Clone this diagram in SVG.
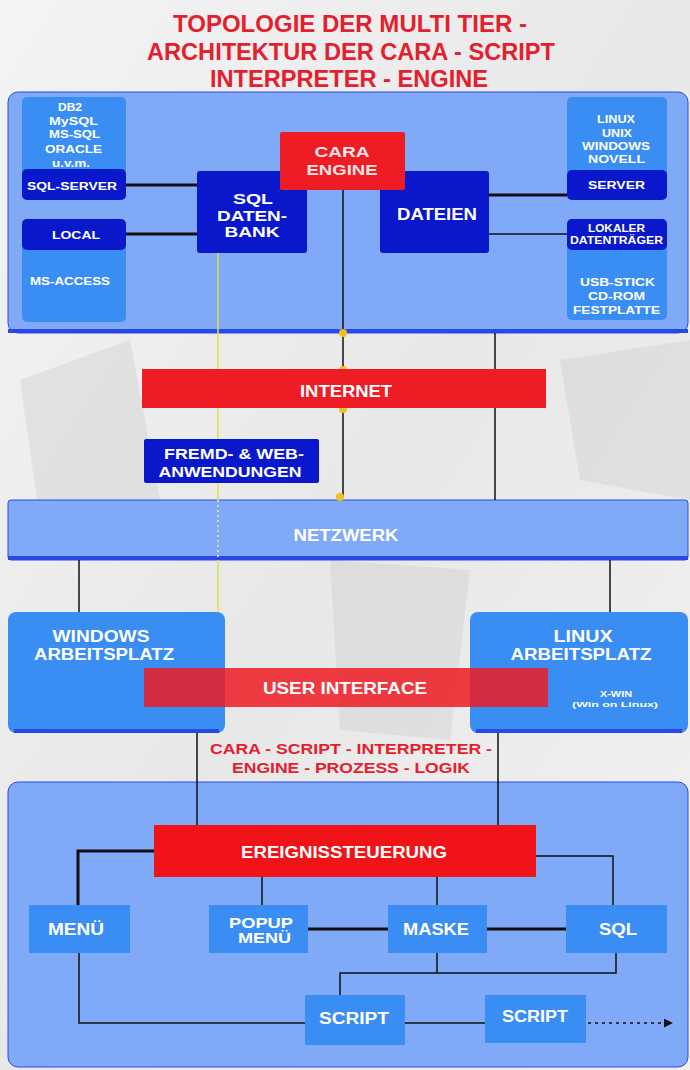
<svg xmlns="http://www.w3.org/2000/svg" width="690" height="1070" viewBox="0 0 690 1070">
<defs>
<style>
text{font-family:"Liberation Sans",Arial,sans-serif;font-weight:bold;fill:#ffffff;text-anchor:middle}
.title{fill:#e3202e;font-size:23px}
.sub{fill:#e3202e;font-size:15.5px}
.panel{fill:#80a9f7;stroke:#2a48e6;stroke-width:1}
.lb{fill:#3a8ef3}
.db{fill:#0a18cc}
.red{fill:#ee1c24}
.sm{font-size:10px}
.md{font-size:14.5px}
.lg{font-size:16px}
.ln{stroke:#101010;stroke-width:1.5;fill:none}
.th{stroke:#101010;stroke-width:3;fill:none}
.dot{fill:#eec020}
</style>
<marker id="arr" viewBox="0 0 10 10" refX="9" refY="5" markerWidth="6" markerHeight="6" orient="auto"><path d="M0,0L10,5L0,10z" fill="#101010"/></marker>
<linearGradient id="bg" x1="0" y1="0" x2="1" y2="1"><stop offset="0" stop-color="#f4f4f4"/><stop offset="0.5" stop-color="#e8e8e8"/><stop offset="1" stop-color="#f2f2f2"/></linearGradient>
</defs>
<rect width="690" height="1070" fill="url(#bg)"/>
<g opacity="0.3" fill="#c4c4c4">
<path d="M20,380 L130,340 L160,500 L40,520 Z"/>
<path d="M560,360 L690,340 L690,500 L580,480 Z"/>
<path d="M330,560 L470,570 L450,740 L340,730 Z"/>
</g>
<text class="title" x="350" y="32" textLength="354" lengthAdjust="spacingAndGlyphs">TOPOLOGIE DER MULTI TIER -</text>
<text class="title" x="351" y="60" textLength="408" lengthAdjust="spacingAndGlyphs">ARCHITEKTUR DER CARA - SCRIPT</text>
<text class="title" x="349" y="87" textLength="278" lengthAdjust="spacingAndGlyphs">INTERPRETER - ENGINE</text>

<g id="panel-top"><rect class="panel" x="8" y="92" width="680" height="241" rx="10"/><rect x="8" y="329" width="680" height="4" fill="#2a48e6"/></g>
<g id="panel-net"><rect class="panel" x="8" y="500" width="680" height="60" rx="3"/><rect x="8" y="556" width="680" height="4" fill="#2a48e6"/></g>
<g id="panel-bottom"><rect class="panel" x="8" y="782" width="680" height="285" rx="10"/></g>

<g id="connectors">
<line class="th" x1="126" y1="185" x2="197" y2="185"/>
<line class="th" x1="126" y1="234" x2="197" y2="234"/>
<line class="th" x1="489" y1="195" x2="567" y2="195"/>
<line class="ln" x1="489" y1="234" x2="567" y2="234"/>
<line class="ln" x1="343" y1="189" x2="343" y2="497"/>
<line class="ln" x1="495" y1="333" x2="495" y2="500"/>
<line stroke="#e0e040" stroke-width="1.5" x1="218" y1="253" x2="218" y2="500"/>
<line stroke="#f0f0a0" stroke-width="1.5" stroke-dasharray="2,3" x1="218" y1="500" x2="218" y2="560"/>
<line stroke="#e0e040" stroke-width="1.5" x1="218" y1="560" x2="218" y2="612"/>
<line class="ln" x1="79" y1="560" x2="79" y2="612"/>
<line class="ln" x1="610" y1="560" x2="610" y2="612"/>
<line class="ln" x1="197" y1="707" x2="197" y2="825"/>
<line class="ln" x1="498" y1="707" x2="498" y2="825"/>
<polyline class="th" points="154,851 78,851 78,905"/>
<polyline class="ln" points="536,856 613,856 613,905"/>
<line class="ln" x1="262" y1="877" x2="262" y2="905"/>
<line class="ln" x1="437" y1="877" x2="437" y2="905"/>
<line class="th" x1="308" y1="929" x2="388" y2="929"/>
<line class="th" x1="487" y1="929" x2="566" y2="929"/>
<polyline class="ln" points="437,953 437,973"/>
<polyline class="ln" points="340,995 340,973 616,973 616,953"/>
<polyline class="ln" points="79,953 79,1023 305,1023"/>
<line class="ln" x1="405" y1="1023" x2="485" y2="1023"/>
<line class="ln" x1="588" y1="1023" x2="672" y2="1023" stroke-dasharray="3,4" marker-end="url(#arr)"/>
<circle class="dot" cx="343" cy="333" r="4"/>
<circle class="dot" cx="343" cy="370" r="4"/>
<circle class="dot" cx="343" cy="409" r="4"/>
<circle class="dot" cx="340" cy="497" r="4"/>
</g>

<g id="sqlserver"><rect class="lb" x="22" y="97" width="104" height="103" rx="5"/><rect class="db" x="22" y="169" width="104" height="31" rx="5"/>
<text class="sm" x="70" y="111" textLength="24" lengthAdjust="spacingAndGlyphs">DB2</text>
<text class="sm" x="73.5" y="125" textLength="49" lengthAdjust="spacingAndGlyphs">MySQL</text>
<text class="sm" x="74.5" y="138" textLength="51" lengthAdjust="spacingAndGlyphs">MS-SQL</text>
<text class="sm" x="73.5" y="153" textLength="57" lengthAdjust="spacingAndGlyphs">ORACLE</text>
<text class="sm" x="71" y="167" textLength="38" lengthAdjust="spacingAndGlyphs">u.v.m.</text>
<text class="sm" x="72" y="190" textLength="90" lengthAdjust="spacingAndGlyphs">SQL-SERVER</text></g>
<g id="local"><rect class="lb" x="22" y="219" width="104" height="103" rx="5"/><rect class="db" x="22" y="219" width="104" height="31" rx="5"/>
<text class="sm" x="76" y="239" textLength="48" lengthAdjust="spacingAndGlyphs">LOCAL</text>
<text class="sm" x="70" y="285" textLength="80" lengthAdjust="spacingAndGlyphs">MS-ACCESS</text></g>
<g id="sqldb"><rect class="db" x="197" y="171" width="110" height="82" rx="3"/>
<text class="md" x="253" y="204" textLength="40" lengthAdjust="spacingAndGlyphs">SQL</text>
<text class="md" x="252" y="221" textLength="70" lengthAdjust="spacingAndGlyphs">DATEN-</text>
<text class="md" x="252" y="237" textLength="55" lengthAdjust="spacingAndGlyphs">BANK</text></g>
<g id="dateien"><rect class="db" x="380" y="171" width="109" height="82" rx="3"/>
<text class="lg" x="437" y="220" textLength="80" lengthAdjust="spacingAndGlyphs">DATEIEN</text></g>
<g id="cara"><rect class="red" x="280" y="132" width="125" height="58" rx="2"/>
<text class="md" x="342" y="157" style="fill:#fbe4e4" textLength="55" lengthAdjust="spacingAndGlyphs">CARA</text>
<text class="md" x="342" y="175" style="fill:#fbe4e4" textLength="71" lengthAdjust="spacingAndGlyphs">ENGINE</text></g>
<g id="server"><rect class="lb" x="567" y="97" width="100" height="103" rx="5"/><rect class="db" x="567" y="170" width="100" height="30" rx="5"/>
<text class="sm" x="616" y="123" textLength="38" lengthAdjust="spacingAndGlyphs">LINUX</text>
<text class="sm" x="617" y="137" textLength="30" lengthAdjust="spacingAndGlyphs">UNIX</text>
<text class="sm" x="616" y="150" textLength="68" lengthAdjust="spacingAndGlyphs">WINDOWS</text>
<text class="sm" x="616.5" y="163" textLength="57" lengthAdjust="spacingAndGlyphs">NOVELL</text>
<text class="sm" x="616.5" y="189" textLength="57" lengthAdjust="spacingAndGlyphs">SERVER</text></g>
<g id="lokal"><rect class="lb" x="567" y="219" width="100" height="101" rx="5"/><rect class="db" x="567" y="219" width="100" height="31" rx="5"/>
<text class="sm" x="616.5" y="232" textLength="57" lengthAdjust="spacingAndGlyphs">LOKALER</text>
<text class="sm" x="616.5" y="244" textLength="93" lengthAdjust="spacingAndGlyphs">DATENTRÄGER</text>
<text class="sm" x="617.5" y="286" textLength="75" lengthAdjust="spacingAndGlyphs">USB-STICK</text>
<text class="sm" x="616.5" y="300" textLength="57" lengthAdjust="spacingAndGlyphs">CD-ROM</text>
<text class="sm" x="616.5" y="314" textLength="87" lengthAdjust="spacingAndGlyphs">FESTPLATTE</text></g>

<g id="internet"><rect class="red" x="142" y="369" width="404" height="39"/>
<text class="lg" x="346" y="397" textLength="92" lengthAdjust="spacingAndGlyphs">INTERNET</text></g>
<g id="fremd"><rect class="db" x="144" y="439" width="175" height="44" rx="2"/>
<text class="md" x="234" y="459" textLength="140" lengthAdjust="spacingAndGlyphs">FREMD- &amp; WEB-</text>
<text class="md" x="230" y="477" textLength="143" lengthAdjust="spacingAndGlyphs">ANWENDUNGEN</text></g>
<g id="netzwerk"><text class="lg" x="346" y="541" textLength="105" lengthAdjust="spacingAndGlyphs">NETZWERK</text></g>
<g id="windows"><rect class="lb" x="8" y="612" width="217" height="121" rx="8"/><rect x="14" y="729" width="205" height="4" fill="#2a48e6"/>
<text class="lg" x="101" y="642" textLength="97" lengthAdjust="spacingAndGlyphs">WINDOWS</text>
<text class="lg" x="104" y="660" textLength="140" lengthAdjust="spacingAndGlyphs">ARBEITSPLATZ</text></g>
<g id="linux"><rect class="lb" x="470" y="612" width="218" height="121" rx="8"/><rect x="476" y="729" width="206" height="4" fill="#2a48e6"/>
<text class="lg" x="583" y="642" textLength="59" lengthAdjust="spacingAndGlyphs">LINUX</text>
<text class="lg" x="581" y="660" textLength="141" lengthAdjust="spacingAndGlyphs">ARBEITSPLATZ</text>
<text x="616" y="697" style="font-size:9px" textLength="32" lengthAdjust="spacingAndGlyphs">X-WIN</text>
<text x="615" y="707" style="font-size:8px" textLength="86" lengthAdjust="spacingAndGlyphs">(Win on Linux)</text></g>
<g id="ui"><rect class="red" x="144" y="668" width="404" height="39" opacity="0.85"/>
<text class="lg" x="345" y="694" textLength="164" lengthAdjust="spacingAndGlyphs">USER INTERFACE</text></g>
<text class="sub" x="351" y="754" textLength="282" lengthAdjust="spacingAndGlyphs">CARA - SCRIPT - INTERPRETER -</text>
<text class="sub" x="351" y="773" textLength="238" lengthAdjust="spacingAndGlyphs">ENGINE - PROZESS - LOGIK</text>

<g id="ereignis"><rect fill="#f01418" x="154" y="825" width="382" height="52"/>
<text class="lg" x="344" y="858" textLength="206" lengthAdjust="spacingAndGlyphs">EREIGNISSTEUERUNG</text></g>
<g id="menu"><rect class="lb" x="29" y="905" width="101" height="48"/>
<text class="lg" x="76" y="935" textLength="56" lengthAdjust="spacingAndGlyphs">MENÜ</text></g>
<g id="popup"><rect class="lb" x="209" y="905" width="99" height="48"/>
<text class="md" x="261" y="928" textLength="64" lengthAdjust="spacingAndGlyphs">POPUP</text>
<text class="md" x="264.5" y="943" textLength="53" lengthAdjust="spacingAndGlyphs">MENÜ</text></g>
<g id="maske"><rect class="lb" x="388" y="905" width="99" height="48"/>
<text class="lg" x="436" y="935" textLength="66" lengthAdjust="spacingAndGlyphs">MASKE</text></g>
<g id="sql"><rect class="lb" x="566" y="905" width="101" height="48"/>
<text class="lg" x="618" y="935" textLength="38" lengthAdjust="spacingAndGlyphs">SQL</text></g>
<g id="script1"><rect class="lb" x="305" y="995" width="100" height="50"/>
<text class="lg" x="354" y="1024" textLength="70" lengthAdjust="spacingAndGlyphs">SCRIPT</text></g>
<g id="script2"><rect class="lb" x="485" y="995" width="101" height="48"/>
<text class="lg" x="535" y="1022" textLength="66" lengthAdjust="spacingAndGlyphs">SCRIPT</text></g>
</svg>
